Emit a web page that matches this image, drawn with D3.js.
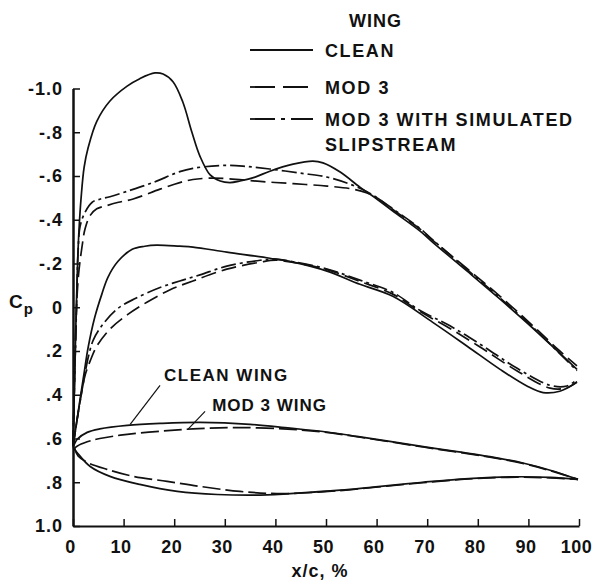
<!DOCTYPE html>
<html>
<head>
<meta charset="utf-8">
<script src="https://cdn.jsdelivr.net/npm/d3@7"></script>
<style>
body { margin: 0; background: #fff; }
svg text { font-family: "Liberation Sans", Arial, Helvetica, sans-serif; font-weight: bold; fill: #111; }
</style>
</head>
<body>
<svg id="chart"></svg>
<script>
// chart size, matches the window
var width = 592;
var height = 582;

// axis ticks
var xTicks = [0, 10, 20, 30, 40, 50, 60, 70, 80, 90, 100];
var yTicks = [-1.0, -0.8, -0.6, -0.4, -0.2, 0, 0.2, 0.4, 0.6, 0.8, 1.0];
var yTickLabels = ["-1.0", "-.8", "-.6", "-.4", "-.2", "0", ".2", ".4", ".6", ".8", "1.0"];

// [x/c %, Cp]
// upper surface curves (top group)
var upperClean = [[0,0.63],[0.3,0.35],[0.6,0.05],[0.9,-0.2],[1.2,-0.36],[1.6,-0.5],[2.2,-0.64],[3,-0.73],[4.7,-0.85],[7.3,-0.943],[10.7,-1.011],[13.2,-1.045],[16.2,-1.071],[17.8,-1.066],[19.8,-1.03],[21.7,-0.938],[23.5,-0.8],[25.1,-0.69],[27.1,-0.605],[29.1,-0.577],[31,-0.57],[33,-0.577],[36,-0.595],[38.9,-0.622],[43.5,-0.654],[47.4,-0.668],[49.4,-0.66],[52.8,-0.618],[56.7,-0.549],[60.1,-0.494],[63.2,-0.44],[68.6,-0.348],[71.1,-0.297],[77.9,-0.165],[84.4,-0.037],[90.9,0.096],[96.2,0.21],[99.6,0.284]];
var upperMod3 = [[0,0.63],[0.35,0.3],[0.7,0],[1.1,-0.15],[1.8,-0.28],[2.4,-0.36],[3.4,-0.42],[4.7,-0.45],[6.7,-0.465],[9,-0.48],[11.9,-0.495],[17.2,-0.54],[21.1,-0.57],[23.7,-0.584],[27,-0.59],[30.4,-0.588],[37,-0.575],[43.5,-0.565],[50.2,-0.554],[55.3,-0.54],[58.1,-0.522],[60.1,-0.5],[63.2,-0.447],[68.6,-0.357],[71.1,-0.306],[77.9,-0.176],[84.4,-0.05],[90.9,0.085],[96.2,0.2],[99.6,0.268]];
var upperSlip = [[0,0.63],[0.35,0.3],[0.7,0],[1.0,-0.25],[1.4,-0.37],[2.4,-0.435],[3.8,-0.48],[5.3,-0.494],[7.3,-0.505],[10.7,-0.53],[15.8,-0.57],[21.1,-0.62],[23.7,-0.635],[29.1,-0.648],[33.6,-0.645],[38.9,-0.632],[44.9,-0.613],[50.2,-0.595],[54.7,-0.563],[58.1,-0.528],[60.1,-0.5],[63.2,-0.45],[68.6,-0.36],[71.1,-0.308],[77.9,-0.172],[84.4,-0.042],[90.9,0.092],[96.2,0.212],[99.6,0.29]];

// lower surface curves (middle group)
var lowerClean = [[0,0.635],[0.5,0.56],[1.4,0.42],[2.2,0.3],[3,0.183],[4.3,0.046],[5.7,-0.06],[6.9,-0.137],[8.9,-0.21],[11.7,-0.265],[14.2,-0.279],[16.5,-0.284],[21.1,-0.279],[23.7,-0.275],[30.4,-0.252],[38.9,-0.224],[43.5,-0.206],[50.2,-0.165],[56.7,-0.105],[63.2,-0.05],[71.1,0.069],[77.9,0.178],[84.4,0.284],[89.7,0.36],[92.9,0.39],[96.2,0.384],[99.6,0.343]];
var lowerMod3 = [[0,0.635],[0.5,0.56],[1.4,0.43],[2.4,0.31],[3.4,0.245],[4.7,0.178],[7.3,0.1],[10.7,0.035],[14.6,-0.023],[19.2,-0.08],[23.7,-0.12],[30.4,-0.174],[37,-0.206],[40,-0.215],[43.5,-0.205],[50.2,-0.172],[56.7,-0.118],[63.2,-0.06],[68.6,0.02],[74.5,0.097],[81,0.19],[87.7,0.29],[94.3,0.37],[97.6,0.368],[99.6,0.34]];
var lowerSlip = [[0,0.635],[0.5,0.56],[1.4,0.43],[2.4,0.3],[3,0.23],[4,0.15],[6,0.075],[8.9,0.005],[12.3,-0.04],[17.2,-0.09],[21.1,-0.12],[25.1,-0.148],[30.4,-0.188],[37,-0.215],[40,-0.22],[43.5,-0.208],[50.2,-0.175],[56.7,-0.124],[63.2,-0.068],[68.6,0.015],[74.5,0.085],[81,0.177],[87.7,0.278],[94.3,0.357],[97.6,0.36],[99.6,0.33]];

// bottom loop, clean wing / mod 3 wing
var loopCleanTop = [[0,0.64],[0.4,0.62],[0.8,0.604],[2.8,0.572],[5.3,0.556],[10.7,0.54],[17.2,0.531],[25.1,0.526],[35,0.535],[42.9,0.553],[49.4,0.568],[56.1,0.59],[62.6,0.613],[69.2,0.637],[75.9,0.66],[82.4,0.683],[88.9,0.712],[94.3,0.745],[99.8,0.787]];
var loopCleanBottom = [[0,0.64],[0.8,0.664],[3.4,0.728],[7.3,0.773],[13.2,0.81],[20.6,0.842],[28.5,0.856],[38.3,0.858],[42.9,0.852],[52.8,0.836],[59.3,0.822],[69.2,0.8],[79,0.782],[87.7,0.775],[94.3,0.778],[99.8,0.787]];
var loopModTop = [[0.3,0.645],[0.8,0.635],[2.8,0.615],[5.3,0.6],[10.7,0.581],[17.2,0.567],[23.7,0.556],[31.6,0.55],[41.5,0.556],[49.4,0.57],[56.1,0.592],[62.6,0.615],[69.2,0.639],[75.9,0.662],[82.4,0.685],[88.9,0.714],[94.3,0.747],[99.8,0.787]];
var loopModBottom = [[0.3,0.645],[1,0.68],[2.8,0.709],[6.7,0.741],[11.9,0.773],[18.6,0.796],[25.1,0.819],[33,0.842],[41.5,0.852],[52.8,0.838],[59.3,0.824],[69.2,0.802],[79,0.784],[87.7,0.777],[94.3,0.78],[99.8,0.787]];

var legendNames = ["CLEAN", "MOD 3", "MOD 3 WITH SIMULATED", "SLIPSTREAM"];

var svg = d3.select("#chart")
    .attr("width", width)
    .attr("height", height);

var x = d3.scaleLinear()
    .domain([0, 100])
    .range([73, 579]);

var y = d3.scaleLinear()
    .domain([-1, 1])
    .range([88.5, 526]);

var line = d3.line()
    .x(function(d) { return x(d[0]); })
    .y(function(d) { return y(d[1]); })
    .curve(d3.curveCatmullRom.alpha(0.5));

var dashed = "15,6";
var dashDot = "15,4,3,4";

// axes
var yAxis = d3.axisLeft(y)
    .tickValues(yTicks)
    .tickFormat(function(d, i) { return yTickLabels[i]; })
    .tickSizeInner(-7)
    .tickSizeOuter(0)
    .tickPadding(10);

var xAxis = d3.axisBottom(x)
    .tickValues(xTicks)
    .tickFormat(function(d) { return d; })
    .tickSizeInner(-7)
    .tickSizeOuter(0)
    .tickPadding(14);

var gy = svg.append("g")
    .attr("transform", "translate(" + x(0) + ",0)")
    .call(yAxis);
gy.select(".domain").attr("stroke", "#111").attr("stroke-width", 2.5);
gy.selectAll(".tick line").attr("stroke", "#111").attr("stroke-width", 1.5);
gy.selectAll(".tick text").style("font-size", "18px").style("letter-spacing", "1px");

var gx = svg.append("g")
    .attr("transform", "translate(0," + y(1) + ")")
    .call(xAxis);
gx.select(".domain").attr("stroke", "#111").attr("stroke-width", 1.8);
gx.selectAll(".tick line").attr("stroke", "#111").attr("stroke-width", 1.5);
gx.selectAll(".tick text")
    .attr("dx", -3)
    .style("font-size", "18px")
    .style("letter-spacing", "0.5px");

svg.append("text")
    .attr("x", 320)
    .attr("y", 577)
    .attr("text-anchor", "middle")
    .style("font-size", "18px")
    .style("letter-spacing", "1px")
    .text("x/c, %");

var cp = svg.append("text")
    .attr("x", 9)
    .attr("y", 308)
    .style("font-size", "19px")
    .text("C");
cp.append("tspan")
    .attr("dy", 6)
    .attr("dx", 1)
    .style("font-size", "15px")
    .text("p");

// curves
var curves = [
    {d: upperClean, dash: null},
    {d: upperMod3, dash: dashed},
    {d: upperSlip, dash: dashDot},
    {d: lowerClean, dash: null},
    {d: lowerMod3, dash: dashed},
    {d: lowerSlip, dash: dashDot},
    {d: loopCleanTop, dash: null},
    {d: loopCleanBottom, dash: null},
    {d: loopModTop, dash: "18,5"},
    {d: loopModBottom, dash: "18,5"}
];

svg.selectAll("path.curve")
    .data(curves)
    .enter().append("path")
    .attr("class", "curve")
    .attr("d", function(c) { return line(c.d); })
    .attr("fill", "none")
    .attr("stroke", "#111")
    .attr("stroke-width", 1.7)
    .attr("stroke-dasharray", function(c) { return c.dash; });

// annotations on bottom loop
svg.append("line")
    .attr("x1", x(11.3)).attr("y1", y(0.535))
    .attr("x2", x(17.2)).attr("y2", y(0.357))
    .attr("stroke", "#111").attr("stroke-width", 1.2);
svg.append("text")
    .attr("x", x(18))
    .attr("y", y(0.339))
    .style("font-size", "17px")
    .style("letter-spacing", "1.5px")
    .text("CLEAN WING");

svg.append("line")
    .attr("x1", x(22.7)).attr("y1", y(0.558))
    .attr("x2", x(26.1)).attr("y2", y(0.476))
    .attr("stroke", "#111").attr("stroke-width", 1.2);
svg.append("text")
    .attr("x", x(27.5))
    .attr("y", y(0.476))
    .style("font-size", "17px")
    .style("letter-spacing", "1px")
    .text("MOD 3 WING");

// legend
svg.append("text")
    .attr("x", 349)
    .attr("y", 27)
    .style("font-size", "18px")
    .style("letter-spacing", "1px")
    .text("WING");

var legendRows = [
    {y: 50, dash: null, label: legendNames[0]},
    {y: 87, dash: "25,8", label: legendNames[1]},
    {y: 119, dash: "25,6,4,6", label: legendNames[2]}
];

legendRows.forEach(function(r) {
    svg.append("line")
        .attr("x1", 250).attr("x2", 313)
        .attr("y1", r.y).attr("y2", r.y)
        .attr("stroke", "#111")
        .attr("stroke-width", 1.8)
        .attr("stroke-dasharray", r.dash);
    svg.append("text")
        .attr("x", 325)
        .attr("y", r.y + 7)
        .style("font-size", "18px")
        .style("letter-spacing", "1.6px")
        .text(r.label);
});
svg.append("text")
    .attr("x", 325)
    .attr("y", 151)
    .style("font-size", "18px")
    .style("letter-spacing", "1.6px")
    .text(legendNames[3]);
</script>
</body>
</html>
